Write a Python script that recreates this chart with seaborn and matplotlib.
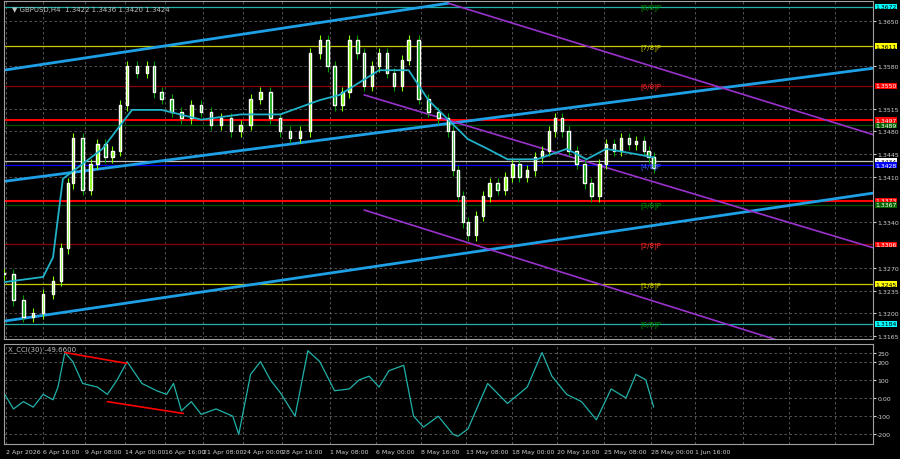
import numpy as np
import matplotlib
matplotlib.use("Agg")
import matplotlib.pyplot as plt
import seaborn as sns

sns.set_style("dark")
plt.rcParams['font.family'] = ['DejaVu Sans']

# time index (chart units) and closes
bar_x = [0, 10, 20, 30, 40, 50, 58, 65, 70, 80, 88, 95, 103, 110, 118, 125, 135, 145, 152, 160, 170, 180,
         190, 200, 210, 220, 230, 240, 250, 260, 270, 280, 290, 300, 310, 320, 328, 335, 343, 350, 358, 365,
         373, 380, 388, 395, 403, 410, 420, 430, 440, 450, 455, 460, 465, 470, 478, 485, 492, 500, 508, 515,
         522, 530, 538, 545, 552, 558, 565, 572, 580, 588, 595, 603, 610, 618, 625, 633, 640, 648, 653, 658]
closes = [1.3260, 1.3220, 1.3195, 1.3200, 1.3230, 1.3250, 1.3300, 1.3400, 1.3470, 1.3390, 1.3430, 1.3460,
          1.3440, 1.3450, 1.3520, 1.3580, 1.3570, 1.3580, 1.3540, 1.3530, 1.3510, 1.3500, 1.3520, 1.3510,
          1.3490, 1.3500, 1.3480, 1.3490, 1.3530, 1.3540, 1.3500, 1.3480, 1.3470, 1.3480, 1.3600, 1.3620,
          1.3580, 1.3520, 1.3540, 1.3620, 1.3600, 1.3550, 1.3580, 1.3600, 1.3570, 1.3550, 1.3590, 1.3620,
          1.3530, 1.3510, 1.3500, 1.3480, 1.3420, 1.3380, 1.3340, 1.3320, 1.3350, 1.3380, 1.3400, 1.3390,
          1.3410, 1.3430, 1.3410, 1.3420, 1.3440, 1.3450, 1.3480, 1.3500, 1.3480, 1.3450, 1.3430, 1.3400,
          1.3380, 1.3430, 1.3460, 1.3450, 1.3470, 1.3460, 1.3465, 1.3450, 1.3440, 1.3424]

ma_x = [0, 40, 50, 60, 100, 130, 160, 200, 240, 280, 320, 340, 380, 410, 430, 450, 470, 490, 510, 540, 570, 590, 610, 640, 658]
ma_y = [1.3248, 1.3256, 1.3286, 1.3407, 1.3453, 1.3513, 1.3513, 1.3498, 1.3506, 1.3506, 1.3528, 1.3536,
        1.3574, 1.3574, 1.3528, 1.3498, 1.3468, 1.3453, 1.3437, 1.3437, 1.3453, 1.3437, 1.3453, 1.3445, 1.3440]

cci_x = [0, 10, 20, 30, 40, 50, 55, 62, 70, 80, 95, 105, 115, 125, 140, 155, 165, 172, 180, 190, 200, 215,
         232, 238, 250, 260, 270, 280, 295, 308, 320, 335, 350, 360, 370, 380, 390, 405, 415, 425, 440, 455,
         460, 470, 490, 510, 530, 545, 555, 570, 585, 600, 615, 630, 640, 650, 658]
cci = [30, -60, -20, -50, 20, -10, 60, 250, 200, 80, 60, 20, 100, 200, 80, 40, 20, 80, -70, -20, -90, -60,
       -100, -200, 130, 200, 100, 30, -100, 260, 200, 40, 50, 100, 120, 60, 150, 180, -100, -160, -100, -200,
       -210, -170, 80, -30, 60, 250, 120, 20, -20, -120, 50, 0, 130, 100, -50]

# horizontal levels
levels = [1.3672, 1.3611, 1.3550, 1.3497, 1.3489, 1.3434, 1.3428, 1.3373, 1.3367, 1.3306, 1.3245, 1.3184]
level_colors = ['#20b2aa', '#c8c800', '#8b0000', '#ff0000', '#005000', '#c0c0c0', '#0000ff', '#ff0000',
                '#005000', '#8b0000', '#c8c800', '#20b2aa']
level_tags = ['[8/8]P', '[7/8]P', '[6/8]P', '', '', '', '[4/8]P', '', '[3/8]P', '[2/8]P', '[1/8]P', '[0/8]P']
tag_colors = ['#00a000', '#c8c800', '#ff3030', '', '', '', '#4060ff', '', '#00a000', '#ff3030', '#c8c800', '#00a000']
label_bg = ['#00ffff', '#ffff00', '#ff0000', '#ff0000', '#006400', '#ffffff', '#0000ff', '#ff0000', '#006400',
            '#ff0000', '#ffff00', '#00ffff']

# channel lines ((x0, p0), (x1, p1))
cyan_lines = [((0, 1.3574), (450, 1.3677)), ((0, 1.3403), (880, 1.3577)), ((0, 1.3188), (880, 1.3385))]
purple_lines = [((450, 1.3677), (880, 1.3475)), ((365, 1.3536), (880, 1.3301)), ((365, 1.3359), (785, 1.3158))]

tick_pos = [2, 40, 82, 123, 163, 202, 242, 282, 330, 377, 422, 468, 515, 560, 608, 655, 700, 748, 795, 842]
tick_labels = ['2 Apr 2026', '6 Apr 16:00', '9 Apr 08:00', '14 Apr 00:00', '16 Apr 16:00', '21 Apr 08:00',
               '24 Apr 00:00', '28 Apr 16:00', '1 May 08:00', '6 May 00:00', '8 May 16:00', '13 May 08:00',
               '18 May 00:00', '20 May 16:00', '25 May 08:00', '28 May 00:00', '1 Jun 16:00', '', '', '']
price_ticks = [1.3165, 1.3200, 1.3235, 1.3270, 1.3340, 1.3410, 1.3445, 1.3480, 1.3515, 1.3580, 1.3650]

fig = plt.figure(figsize=(9, 4.6), dpi=100, facecolor='black')
ax = fig.add_axes([0.004, 0.26, 0.966, 0.735])
ax2 = fig.add_axes([0.004, 0.033, 0.966, 0.217])
for a in (ax, ax2):
    a.set_facecolor('black')
    for s in a.spines.values():
        s.set_color('#a0a0a0')
    a.yaxis.tick_right()
    a.tick_params(colors='#d0d0d0', labelsize=4.5, length=2, pad=1)
    a.grid(True, color='#606060', linestyle=(0, (3, 3)), linewidth=0.6)
    a.set_xlim(0, 880)
    a.set_xticks(tick_pos)

ax.set_ylim(1.3160, 1.3680)
ax.set_yticks(price_ticks)
ax.set_yticklabels([f'{p:.4f}' for p in price_ticks])
ax.set_xticklabels([])

for p, c, t, tc, bg in zip(levels, level_colors, level_tags, tag_colors, label_bg):
    lw = 1.5 if c == '#ff0000' else 0.9
    ax.axhline(p, color=c, linewidth=lw, zorder=1)
    if t:
        ax.text(645, p, t, color=tc, fontsize=5, va='center', zorder=5)
    ax.text(1.003, p, f'{p:.4f}', transform=ax.get_yaxis_transform(), fontsize=4.4, va='center',
            color='black' if bg not in ('#0000ff', '#006400', '#ff0000') else 'white',
            bbox=dict(facecolor=bg, edgecolor='none', pad=0.3), clip_on=False, zorder=6)

for (x0, p0), (x1, p1) in cyan_lines:
    ax.plot([x0, x1], [p0, p1], color='#1ea0e6', linewidth=2, zorder=2)
for (x0, p0), (x1, p1) in purple_lines:
    ax.plot([x0, x1], [p0, p1], color='#9932cc', linewidth=1.2, zorder=2)

# candles: open = previous close
opens = [closes[0]] + closes[:-1]
for x, o, c in zip(bar_x, opens, closes):
    lo, hi = min(o, c), max(o, c)
    col = '#7cfc00' if c >= o else '#00a000'
    ax.vlines(x, lo - 0.0008, hi + 0.0008, color=col, linewidth=0.8, zorder=3)
    ax.bar(x, max(hi - lo, 0.0002), bottom=lo, width=2.5, color=col, zorder=3)

sns.lineplot(x=ma_x, y=ma_y, ax=ax, color='#20b2c8', linewidth=1.3, zorder=4)
ax.text(8, 1.3668, '▼ GBPUSD,H4  1.3422 1.3436 1.3420 1.3424', color='#c0c0c0', fontsize=5, va='center')

# CCI panel
ax2.set_ylim(-251.83, 296.94)
ax2.set_yticks([-200, -100, 0, 100, 200, 250])
ax2.set_yticklabels(['-200', '-100', '0.00', '100', '200', '250'])
ax2.set_xticklabels(tick_labels)
ax2.tick_params(axis='x', labelsize=4.5, pad=2)
for lab in ax2.get_xticklabels():
    lab.set_horizontalalignment('left')
sns.lineplot(x=cci_x, y=cci, ax=ax2, color='#20b2aa', linewidth=0.9)
ax2.plot([62, 125], [250, 190], color='#ff0000', linewidth=1.2)
ax2.plot([105, 182], [-20, -85], color='#ff0000', linewidth=1.2)
ax2.text(4, 270, 'X_CCI(30) -49.6600', color='#c0c0c0', fontsize=5, va='center')

fig.savefig('out.png', dpi=100, facecolor='black')
